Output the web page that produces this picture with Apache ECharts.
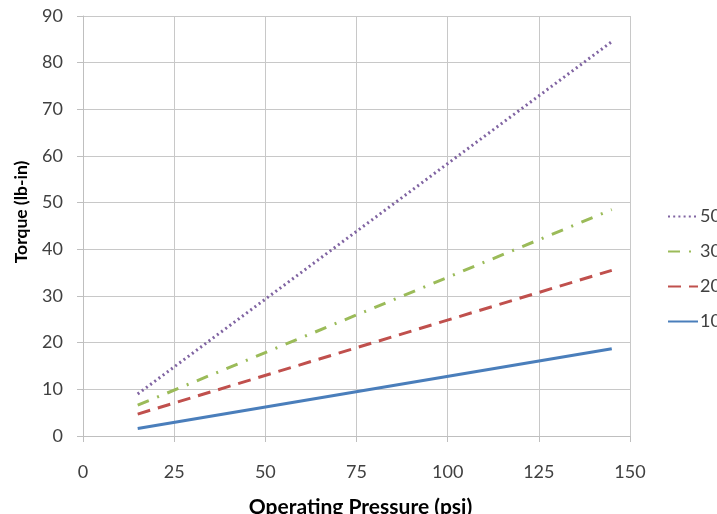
<!DOCTYPE html>
<html>
<head>
<meta charset="utf-8">
<script src="https://cdn.jsdelivr.net/npm/echarts@6/dist/echarts.min.js"></script>
<style>
html,body{margin:0;padding:0;background:#fff;}
#chart{width:717px;height:514px;}
</style>
</head>
<body>
<div id="chart"></div>
<script>
// Operating pressure (psi) at the ends of each line
var pressure = [15, 145];
// Torque (lb-in) per series
var torque10 = [1.6, 18.7];
var torque20 = [4.7, 35.5];
var torque30 = [6.6, 48.5];
var torque50 = [9.0, 84.5];
var seriesNames = ['10', '20', '30', '50'];
var legendOrder = ['50', '30', '20', '10'];
var xTitle = 'Operating Pressure (psi)';
var yTitle = 'Torque (lb-in)';

function pairs(ys) { return pressure.map(function (x, i) { return [x, ys[i]]; }); }

var font = 'Lato, "Open Sans", sans-serif';
var chart = echarts.init(document.getElementById('chart'), null, {renderer: 'canvas'});
chart.setOption({
  animation: false,
  backgroundColor: '#ffffff',
  grid: {left: 83, right: 87, top: 16, bottom: 78, containLabel: false, outerBoundsMode: 'none'},
  xAxis: {
    type: 'value', min: 0, max: 150, interval: 25,
    name: xTitle, nameLocation: 'middle', nameGap: 61,
    nameTextStyle: {fontFamily: font, fontSize: 21, fontWeight: 'bold', color: '#000', padding: [0, 0, 0, 8]},
    axisLine: {show: true, lineStyle: {color: '#bfbfbf', width: 1}},
    axisTick: {show: true, inside: false, length: 6, lineStyle: {color: '#bfbfbf'}},
    axisLabel: {fontFamily: font, fontSize: 18, color: '#404040', margin: 27},
    splitLine: {show: true, lineStyle: {color: '#c8c8c8', width: 1}}
  },
  yAxis: {
    type: 'value', min: 0, max: 90, interval: 10,
    axisLine: {show: true, lineStyle: {color: '#bfbfbf', width: 1}},
    axisTick: {show: true, inside: false, length: 6, lineStyle: {color: '#bfbfbf'}},
    axisLabel: {fontFamily: font, fontSize: 18, color: '#404040', margin: 20},
    splitLine: {show: true, lineStyle: {color: '#c8c8c8', width: 1}}
  },
  graphic: [{
    type: 'text', x: 21, y: 212, rotation: Math.PI / 2,
    style: {text: yTitle, fontFamily: font, fontSize: 17.5, fontWeight: 'bold', fill: '#000',
            align: 'center', verticalAlign: 'middle'}
  }],
  legend: {
    orient: 'vertical', left: 662, top: 202, itemWidth: 30, itemHeight: 10, itemGap: 16,
    data: legendOrder,
    itemStyle: {color: 'rgba(0,0,0,0)', borderColor: 'rgba(0,0,0,0)', borderWidth: 0, opacity: 0},
    textStyle: {fontFamily: font, fontSize: 18, lineHeight: 19, color: '#404040', padding: [0, 0, 0, -3]}
  },
  series: [
    {name: seriesNames[0], type: 'line', data: pairs(torque10), showSymbol: false, symbol: 'none',
     lineStyle: {color: '#4a7ebb', width: 3, type: 'solid'}, itemStyle: {color: '#4a7ebb'}},
    {name: seriesNames[1], type: 'line', data: pairs(torque20), showSymbol: false, symbol: 'none',
     lineStyle: {color: '#c0504d', width: 3, type: [13, 8]}, itemStyle: {color: '#c0504d'}},
    {name: seriesNames[2], type: 'line', data: pairs(torque30), showSymbol: false, symbol: 'none',
     lineStyle: {color: '#9bbb59', width: 3, type: [12, 9, 2, 9]}, itemStyle: {color: '#9bbb59'}},
    {name: seriesNames[3], type: 'line', data: pairs(torque50), showSymbol: false, symbol: 'none',
     lineStyle: {color: '#8064a2', width: 3, type: [2, 3.2]}, itemStyle: {color: '#8064a2'}}
  ]
});
</script>
</body>
</html>
